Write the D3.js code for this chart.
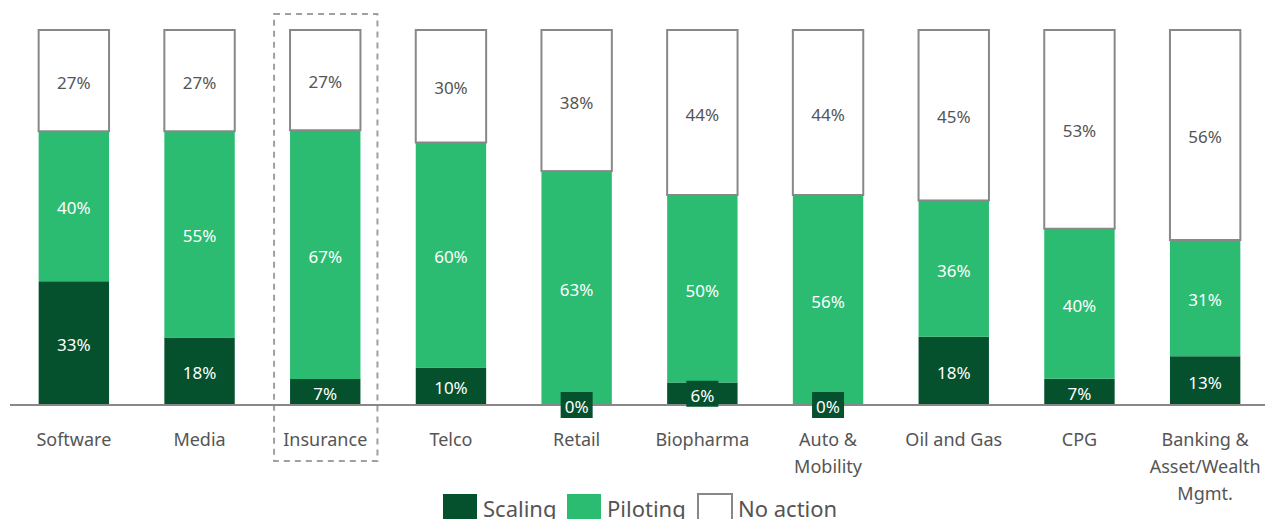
<!DOCTYPE html>
<html lang="en">
<head>
<meta charset="UTF-8">
<title>Stacked bars</title>
<style>
  body { margin: 0; background: #fff; }
  svg text { font-family: "Noto Sans", sans-serif; }
  .axis-label { font-size: 18px; fill: #555; }
  .val { font-size: 17px; }
  .legend text { font-size: 22px; fill: #555; }
</style>
</head>
<body>
<svg width="1265" height="519"></svg>
<script src="https://cdn.jsdelivr.net/npm/d3@7"></script>
<script>
// data
var categories = ["Software", "Media", "Insurance", "Telco", "Retail", "Biopharma", "Auto & Mobility", "Oil and Gas", "CPG", "Banking & Asset/Wealth Mgmt."];
var labelLines = [["Software"], ["Media"], ["Insurance"], ["Telco"], ["Retail"], ["Biopharma"], ["Auto &", "Mobility"], ["Oil and Gas"], ["CPG"], ["Banking &", "Asset/Wealth", "Mgmt."]];
var scaling  = [33, 18, 7, 10, 0, 6, 0, 18, 7, 13];
var piloting = [40, 55, 67, 60, 63, 50, 56, 36, 40, 31];
var noAction = [27, 27, 27, 30, 38, 44, 44, 45, 53, 56];
var seriesNames = ["Scaling", "Piloting", "No action"];
var highlighted = "Insurance";

var colors = { "Scaling": "#05512e", "Piloting": "#2bbc72", "No action": "#ffffff" };

var svg = d3.select("svg");

var rows = categories.map(function (c, i) {
  return { cat: c, "Scaling": scaling[i], "Piloting": piloting[i], "No action": noAction[i] };
});

var stack = d3.stack().keys(seriesNames).offset(d3.stackOffsetExpand);
var series = stack(rows);

var x = d3.scaleBand().domain(categories).range([11, 1268]).paddingInner(0.44).paddingOuter(0.22);
var y = d3.scaleLinear().domain([0, 1]).range([405, 30]);

// highlight box around one category
var hx = x(highlighted);
svg.append("rect")
  .attr("x", hx - 16).attr("y", 14)
  .attr("width", x.bandwidth() + 33).attr("height", 447)
  .attr("fill", "none").attr("stroke", "#a0a0a0")
  .attr("stroke-width", 2).attr("stroke-dasharray", "6,5");

// bars
var groups = svg.selectAll(".series")
  .data(series)
  .enter().append("g")
  .attr("class", "series");

groups.selectAll("rect")
  .data(function (s) { return s.map(function (d) { return { key: s.key, d: d }; }); })
  .enter().append("rect")
  .attr("x", function (o) { return x(o.d.data.cat); })
  .attr("y", function (o) { return y(o.d[1]); })
  .attr("width", x.bandwidth())
  .attr("height", function (o) { return y(o.d[0]) - y(o.d[1]); })
  .attr("fill", function (o) { return colors[o.key]; })
  .attr("stroke", function (o) { return o.key === "No action" ? "#888" : "none"; })
  .attr("stroke-width", 2);

// axis line
svg.append("line")
  .attr("x1", 10).attr("x2", 1265)
  .attr("y1", 405).attr("y2", 405)
  .attr("stroke", "#888").attr("stroke-width", 2);

// value labels
series.forEach(function (s) {
  s.forEach(function (d) {
    var v = d.data[s.key];
    var cx = x(d.data.cat) + x.bandwidth() / 2;
    var cy = (y(d[0]) + y(d[1])) / 2;
    if (s.key === "Scaling" && v < 7) {
      svg.append("rect")
        .attr("x", cx - 16).attr("y", cy - 13)
        .attr("width", 32).attr("height", 26)
        .attr("fill", colors["Scaling"]);
    }
    svg.append("text")
      .attr("class", "val")
      .attr("x", cx).attr("y", cy + 2)
      .attr("dy", "0.36em")
      .attr("text-anchor", "middle")
      .attr("fill", s.key === "No action" ? "#555" : "#fff")
      .text(v + "%");
  });
});

// category labels
var catLabels = svg.selectAll(".axis-label")
  .data(categories)
  .enter().append("text")
  .attr("class", "axis-label")
  .attr("text-anchor", "middle")
  .attr("x", function (c) { return x(c) + x.bandwidth() / 2; })
  .attr("y", 446);

catLabels.each(function (c, i) {
  var t = d3.select(this);
  labelLines[i].forEach(function (line, j) {
    t.append("tspan")
      .attr("x", x(c) + x.bandwidth() / 2)
      .attr("dy", j === 0 ? 0 : 27)
      .text(line);
  });
});

// legend
var legend = svg.append("g").attr("class", "legend");
var legendX = [443, 567, 698];
seriesNames.forEach(function (name, i) {
  legend.append("rect")
    .attr("x", legendX[i]).attr("y", 494)
    .attr("width", 34).attr("height", 34)
    .attr("fill", colors[name])
    .attr("stroke", name === "No action" ? "#888" : "none")
    .attr("stroke-width", 2);
  legend.append("text")
    .attr("x", legendX[i] + 40).attr("y", 517)
    .text(name);
});
</script>
</body>
</html>
